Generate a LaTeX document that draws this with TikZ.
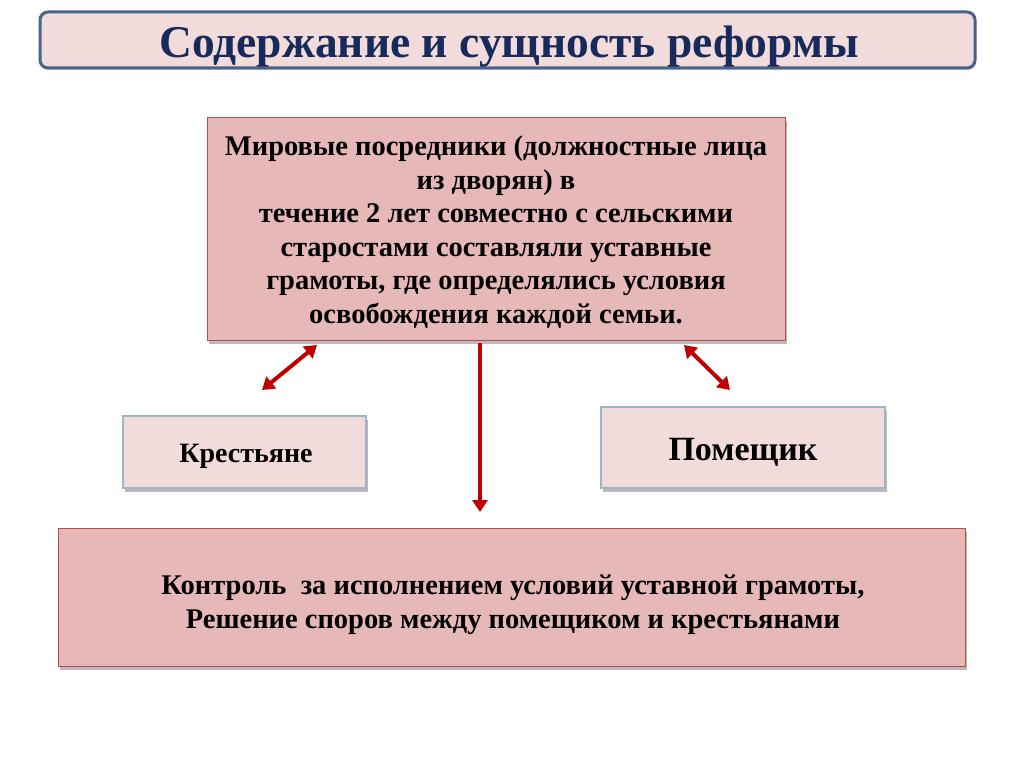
\documentclass[tikz,border=0pt]{standalone}
\usepackage{fontspec}
\setmainfont{Liberation Serif}
\usetikzlibrary{arrows.meta,shadows}
\definecolor{titlefill}{HTML}{F2DCDB}
\definecolor{titleborder}{HTML}{4A6388}
\definecolor{titletext}{HTML}{172A5C}
\definecolor{darkfill}{HTML}{E6B9B8}
\definecolor{darkborder}{HTML}{B0504E}
\definecolor{lightborder}{HTML}{9DB4CB}
\definecolor{arrowred}{HTML}{C00000}
\tikzset{
  x=1pt,y=-1pt,
  box/.style={draw, inner sep=0pt, drop shadow={shadow xshift=1.5pt, shadow yshift=-4pt, opacity=0.45, fill=black!60}},
  darkbox/.style={box, fill=darkfill, draw=darkborder, line width=1pt},
  lightbox/.style={box, fill=titlefill, draw=lightborder, line width=1.2pt},
  txt/.style={font=\bfseries, align=center, text=black, inner sep=0pt},
  link/.style={draw=arrowred, line width=4pt, {Triangle[length=12pt,width=15pt]}-{Triangle[length=12pt,width=15pt]}},
  down/.style={draw=arrowred, line width=4pt, -{Triangle[length=12pt,width=15pt]}},
}
\begin{document}
\begin{tikzpicture}
\useasboundingbox[fill=white] (0,0) rectangle (1024,767);
% title
\draw[fill=titlefill, draw=titleborder, line width=3pt, rounded corners=8pt,
  drop shadow={shadow xshift=1pt, shadow yshift=-2pt, opacity=0.4, fill=black!60}] (40,12) rectangle (975,68);
\node[inner sep=0pt, text=titletext, font=\fontsize{45.5}{50}\selectfont\bfseries] (title) at (509,47) {Содержание и сущность реформы};
% main box
\draw[darkbox] (207,118) rectangle (785,340);
\node[txt, font=\fontsize{28.5}{33.6}\selectfont\bfseries] (main) at (496,232)
 {Мировые посредники (должностные лица\\ из дворян) в\\ течение 2 лет совместно с сельскими\\ старостами составляли уставные\\ грамоты, где определялись условия\\ освобождения каждой семьи.};
% peasants
\draw[lightbox] (123,416) rectangle (366,488);
\node[txt, font=\fontsize{28}{32}\selectfont\bfseries] (peas) at (246,456) {Крестьяне};
% landowner
\draw[lightbox] (601,407) rectangle (885,488);
\node[txt, font=\fontsize{34}{38}\selectfont\bfseries] (land) at (743,452) {Помещик};
% bottom
\draw[darkbox] (58,528) rectangle (965,666);
\node[txt, font=\fontsize{28.5}{34}\selectfont\bfseries] (ctrl) at (513,605)
 {Контроль\ \ за исполнением условий уставной грамоты,\\ Решение споров между помещиком и крестьянами};
% arrows
\coordinate (a1) at (317,345); \coordinate (a2) at (262,390);
\coordinate (b1) at (684,345); \coordinate (b2) at (730,390);
\coordinate (c1) at (480,343); \coordinate (c2) at (480,512);
\draw[link] (a1) -- (a2);
\draw[link] (b1) -- (b2);
\draw[down] (c1) -- (c2);
\end{tikzpicture}
\end{document}
